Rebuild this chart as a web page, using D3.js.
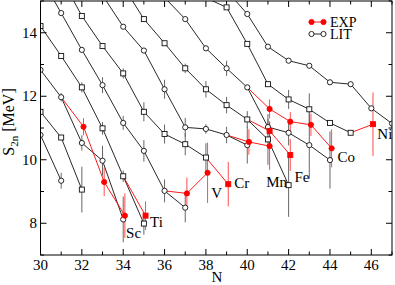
<!DOCTYPE html>
<html>
<head>
<meta charset="utf-8">
<script src="https://cdn.jsdelivr.net/npm/d3@7/dist/d3.min.js"></script>
<style>
body { margin: 0; background: #fff; }
svg { display: block; font-family: 'Liberation Serif', 'Times New Roman', serif; }
</style>
</head>
<body>
<svg width="395" height="285"></svg>
<script>
// LIT chains, one per element: [N, S2n in MeV, error bar half-size]
var litK  = [[30, 10.78, 0], [31, 9.34, 0.25]];
var litCa = [[30, 11.51, 0], [31, 10.70, 0], [32, 9.06, 0.72]];
var litSc = [[30, 12.83, 0], [31, 11.97, 0.13], [32, 10.53, 0.24], [33, 9.97, 0.47], [34, 8.12, 0.72]];
var litTi = [[30, 14.21, 0], [31, 13.27, 0], [32, 12.28, 0.16], [33, 10.99, 0.2], [34, 9.48, 0.18], [35, 7.99, 0.35]];
var litV  = [[30, 15.77, 0], [31, 14.62, 0], [32, 13.46, 0], [33, 12.35, 0.25], [34, 11.16, 0.22], [35, 10.28, 0.34], [36, 9.02, 0.36], [37, 8.49, 0.46]];
var litCr = [[31, 15.73, 0], [32, 14.53, 0], [33, 13.58, 0], [34, 12.72, 0.16], [35, 11.51, 0.3], [36, 10.81, 0.3], [37, 10.49, 0.35], [38, 10.07, 0.45]];
var litMn = [[33, 15.18, 0], [34, 14.19, 0], [35, 13.44, 0], [36, 12.22, 0.3], [37, 11.02, 0.3], [38, 10.97, 0.15], [39, 10.78, 0.26], [40, 10.46, 0.58]];
var litFe = [[34, 15.47, 0], [35, 14.43, 0], [36, 13.67, 0], [37, 12.88, 0.15], [38, 12.22, 0.26], [39, 11.72, 0.26], [40, 11.27, 0.26], [41, 10.64, 0.8], [42, 9.2, 1.0]];
var litCo = [[36, 15.11, 0], [37, 14.43, 0], [38, 13.51, 0], [39, 12.88, 0.24], [40, 12.28, 0], [41, 11.03, 0.25], [42, 10.85, 0.4], [43, 10.46, 1.05], [44, 9.99, 0.9]];
var litNi = [[38, 15.1, 0], [39, 14.8, 0], [40, 13.65, 0], [41, 12.38, 0], [42, 11.9, 0.3], [43, 11.59, 0.5], [44, 11.16, 0], [45, 10.85, 0]];
var litCu = [[39, 15.33, 0], [40, 14.59, 0], [41, 13.56, 0], [42, 13.12, 0], [43, 12.96, 0], [44, 12.44, 0], [45, 12.38, 0], [46, 11.62, 0], [47, 11.14, 0]];

// EXP chains: first entry is the LIT point the red line starts from
var expSc = [[31, 11.97], [32, 11.04, 0.27], [33, 9.30, 0.45], [34, 8.24, 0.7]];
var expTi = [[34, 9.48], [35, 8.24, 0.45]];
var expV  = [[36, 9.02], [37, 8.94, 0.5], [38, 9.59, 0.95]];
var expCr = [[38, 10.07], [39, 9.23, 0.7]];
var expMn = [[39, 10.78], [40, 10.56, 0.4], [41, 10.43, 0.75]];
var expFe = [[40, 11.27], [41, 10.91, 0.3], [42, 10.15, 0.5]];
var expCo = [[40, 12.28], [41, 11.6, 0.3], [42, 11.2, 0.3], [43, 11.1, 0.35], [44, 10.36, 0.6]];
var expNi = [[45, 10.85], [46, 11.12, 1.0]];

// element labels: name, N, S2n (baseline)
var labelNames = ['Sc', 'Ti', 'V', 'Cr', 'Mn', 'Fe', 'Co', 'Ni'];
var labelN = [34.14, 35.3, 38.26, 39.37, 40.92, 42.28, 44.36, 46.29];
var labelS = [7.53, 7.88, 8.8, 9.11, 9.14, 9.3, 9.93, 10.65];

var xTicks = [30, 32, 34, 36, 38, 40, 42, 44, 46];
var yTicks = [8, 10, 12, 14];

// chains alternate circle / square markers
var chains = [
    {lit: litK, exp: null}, {lit: litCa, exp: null}, {lit: litSc, exp: expSc},
    {lit: litTi, exp: expTi}, {lit: litV, exp: expV}, {lit: litCr, exp: expCr},
    {lit: litMn, exp: expMn}, {lit: litFe, exp: expFe}, {lit: litCo, exp: expCo},
    {lit: litNi, exp: expNi}, {lit: litCu, exp: null}
];
chains.forEach(function(c, i) { c.shape = i % 2 === 0 ? 'circle' : 'square'; });

var svg = d3.select('svg');
var red = '#ff0000';
var expShift = 0.08;

var x = d3.scaleLinear().domain([30, 47]).range([40.5, 392]);
var y = d3.scaleLinear().domain([7, 15]).range([255, 1]);

svg.append('clipPath').attr('id', 'plotClip')
    .append('rect')
    .attr('x', x(30)).attr('y', y(15))
    .attr('width', x(47) - x(30)).attr('height', y(7) - y(15));

var plotG = svg.append('g').attr('clip-path', 'url(#plotClip)');

var line = d3.line()
    .x(function(d) { return x(d[0]); })
    .y(function(d) { return y(d[1]); });
var expLine = d3.line()
    .x(function(d, i) { return x(d[0] + (i > 0 ? expShift : 0)); })
    .y(function(d) { return y(d[1]); });

function drawMarker(g, shape, cx, cy, fill, stroke) {
    if (shape === 'circle') {
        g.append('circle').attr('cx', cx).attr('cy', cy).attr('r', 2.6)
            .attr('fill', fill).attr('stroke', stroke).attr('stroke-width', 0.9);
    } else {
        g.append('rect').attr('x', cx - 2.5).attr('y', cy - 2.5)
            .attr('width', 5).attr('height', 5)
            .attr('fill', fill).attr('stroke', stroke).attr('stroke-width', 0.9);
    }
}

// LIT error bars and lines
chains.forEach(function(c) {
    c.lit.forEach(function(d) {
        if (d[2] > 0) {
            plotG.append('line')
                .attr('x1', x(d[0])).attr('x2', x(d[0]))
                .attr('y1', y(d[1] - d[2])).attr('y2', y(d[1] + d[2]))
                .attr('stroke', '#666').attr('stroke-width', 1);
        }
    });
    plotG.append('path').datum(c.lit)
        .attr('d', line)
        .attr('fill', 'none').attr('stroke', '#111').attr('stroke-width', 0.9);
});

// EXP error bars and lines
chains.forEach(function(c) {
    if (!c.exp) return;
    c.exp.forEach(function(d, i) {
        if (i === 0) return;
        plotG.append('line')
            .attr('x1', x(d[0] + expShift)).attr('x2', x(d[0] + expShift))
            .attr('y1', y(d[1] - d[2])).attr('y2', y(d[1] + d[2]))
            .attr('stroke', red).attr('stroke-opacity', 0.7).attr('stroke-width', 1);
    });
    plotG.append('path').datum(c.exp)
        .attr('d', expLine)
        .attr('fill', 'none').attr('stroke', red).attr('stroke-width', 0.9);
});

// markers on top
chains.forEach(function(c) {
    c.lit.forEach(function(d) {
        drawMarker(plotG, c.shape, x(d[0]), y(d[1]), '#fff', '#111');
    });
});
chains.forEach(function(c) {
    if (!c.exp) return;
    c.exp.forEach(function(d, i) {
        if (i === 0) return;
        drawMarker(plotG, c.shape, x(d[0] + expShift), y(d[1]), red, red);
    });
});

// element labels
labelNames.forEach(function(name, i) {
    svg.append('text')
        .attr('x', x(labelN[i])).attr('y', y(labelS[i]))
        .attr('font-size', 15).attr('fill', '#000')
        .text(name);
});

// axes, ticks pointing inward on all four sides
var allX = d3.range(30, 48);
var allY = d3.range(7, 16);
var frame = svg.append('g');
frame.append('rect')
    .attr('x', x(30)).attr('y', y(15))
    .attr('width', x(47) - x(30)).attr('height', y(7) - y(15))
    .attr('fill', 'none').attr('stroke', '#000').attr('stroke-width', 1);

allX.forEach(function(n) {
    var len = xTicks.indexOf(n) >= 0 ? 6 : 3.5;
    frame.append('line').attr('x1', x(n)).attr('x2', x(n))
        .attr('y1', y(7)).attr('y2', y(7) - len).attr('stroke', '#000');
    frame.append('line').attr('x1', x(n)).attr('x2', x(n))
        .attr('y1', y(15)).attr('y2', y(15) + len).attr('stroke', '#000');
});
allY.forEach(function(s) {
    var len = yTicks.indexOf(s) >= 0 ? 6 : 3.5;
    frame.append('line').attr('x1', x(30)).attr('x2', x(30) + len)
        .attr('y1', y(s)).attr('y2', y(s)).attr('stroke', '#000');
    frame.append('line').attr('x1', x(47)).attr('x2', x(47) - len)
        .attr('y1', y(s)).attr('y2', y(s)).attr('stroke', '#000');
});

frame.selectAll('.xlab').data(xTicks).enter()
    .append('text').attr('class', 'xlab')
    .attr('x', function(d) { return x(d); }).attr('y', 270)
    .attr('text-anchor', 'middle').attr('font-size', 15)
    .text(function(d) { return d; });
frame.selectAll('.ylab').data(yTicks).enter()
    .append('text').attr('class', 'ylab')
    .attr('x', 37).attr('y', function(d) { return y(d) + 5; })
    .attr('text-anchor', 'end').attr('font-size', 15)
    .text(function(d) { return d; });

svg.append('text').attr('x', 217).attr('y', 282)
    .attr('text-anchor', 'middle').attr('font-size', 15).text('N');

var yTitle = svg.append('text')
    .attr('transform', 'translate(14,122) rotate(-90)')
    .attr('text-anchor', 'middle').attr('font-size', 16);
yTitle.append('tspan').text('S');
yTitle.append('tspan').attr('font-size', 11).attr('dy', 4).text('2n');
yTitle.append('tspan').attr('dy', -4).text(' [MeV]');

// legend
var legend = svg.append('g');
var legendRows = [{label: 'EXP', fill: red, stroke: red, yy: 22},
                  {label: 'LIT', fill: '#fff', stroke: '#111', yy: 34}];
legendRows.forEach(function(r) {
    legend.append('line').attr('x1', 311.5).attr('x2', 323.5)
        .attr('y1', r.yy).attr('y2', r.yy)
        .attr('stroke', r.stroke).attr('stroke-width', 0.9);
    drawMarker(legend, 'circle', 311.5, r.yy, r.fill, r.stroke);
    drawMarker(legend, 'circle', 323.5, r.yy, r.fill, r.stroke);
    legend.append('text').attr('x', 330).attr('y', r.yy + 4.5)
        .attr('font-size', 14).text(r.label);
});
</script>
</body>
</html>
